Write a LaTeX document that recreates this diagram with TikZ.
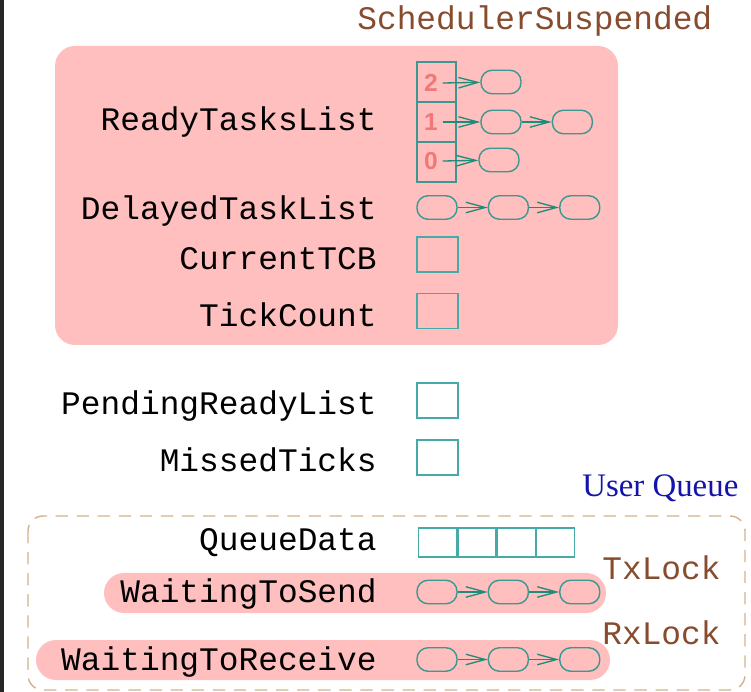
\documentclass[tikz,border=0pt]{standalone}
\usepackage{fontspec}
\setmainfont{Liberation Serif}
\setmonofont{Liberation Mono}
\newfontfamily\digitfont{Liberation Sans}
\usetikzlibrary{arrows.meta, positioning}
\definecolor{mypink}{RGB}{255,191,191}
\definecolor{myteal}{RGB}{60,150,145}
\definecolor{mysquare}{RGB}{70,170,170}
\definecolor{mylink}{RGB}{30,140,120}
\definecolor{mybrown}{RGB}{135,75,45}
\definecolor{myblue}{RGB}{20,20,170}
\definecolor{mytan}{RGB}{210,178,140}
\definecolor{mydigit}{RGB}{240,120,120}
\tikzset{
  lbl/.style={anchor=east, inner sep=0pt, font=\fontsize{18.7}{20}\selectfont\ttfamily},
  lock/.style={anchor=west, inner sep=0pt, text=mybrown,
    font=\fontsize{18.7}{20}\selectfont\ttfamily},
  tcb/.style={rectangle, draw=myteal, rounded corners=0.22cm,
    minimum width=0.8cm, minimum height=0.47cm, inner sep=0pt, line width=0.8pt},
  sq/.style={rectangle, draw=mysquare, minimum width=0.82cm,
    minimum height=0.7cm, inner sep=0pt, line width=0.8pt},
  slot/.style={rectangle, draw=myteal, minimum width=0.78cm,
    minimum height=0.8cm, inner sep=0pt, line width=0.8pt},
  cell/.style={rectangle, draw=mysquare, minimum width=0.76cm,
    minimum height=0.58cm, inner sep=0pt, line width=0.8pt},
  digit/.style={text=mydigit, inner sep=2.5pt,
    font=\fontsize{14}{14}\selectfont\digitfont\bfseries},
  lnk/.style={-{Straight Barb[length=11pt,width=6pt]}, line width=0.75pt, color=mylink}
}
\begin{document}
\begin{tikzpicture}[x=0.02cm, y=-0.02cm, node distance=0.6cm]
  \useasboundingbox (0,0) rectangle (751,692);
  \fill[black!85] (0,0) rectangle (4,692);

  % scheduler area
  \fill[mypink, rounded corners=0.4cm] (55,46) rectangle (618,345);
  \node[lock] (sched) at (357,21) {SchedulerSuspended};

  \node[lbl] (ready) at (377,122) {ReadyTasksList};
  \node[slot] (s2) at (436.5,82) {};
  \node[slot] (s1) at (436.5,122) {};
  \node[slot] (s0) at (436.5,162) {};
  \node[digit] (n2) at (431,83) {2};
  \node[digit] (n1) at (431,122) {1};
  \node[digit] (n0) at (431,161) {0};
  \node[tcb] (r2a) at (501,82) {};
  \node[tcb] (r1a) at (501,122) {};
  \node[tcb, right=of r1a] (r1b) {};
  \node[tcb] (r0a) at (499,160) {};
  \draw[lnk] (n2.east) -- (r2a);
  \draw[lnk] (n1.east) -- (r1a);
  \draw[lnk] (r1a) -- (r1b);
  \draw[lnk] (n0.east) -- (r0a);

  \node[lbl] (delayed) at (377,211) {DelayedTaskList};
  \node[tcb] (d1) at (437,207.5) {};
  \node[tcb, right=of d1] (d2) {};
  \node[tcb, right=of d2] (d3) {};
  \draw[lnk] (d1) -- (d2);
  \draw[lnk] (d2) -- (d3);

  \node[lbl] (current) at (377,259) {CurrentTCB};
  \node[sq] (currentbox) at (437.5,254.5) {};
  \node[lbl] (tick) at (377,315) {TickCount};
  \node[sq] (tickbox) at (437.5,311) {};

  % outside the scheduler
  \node[lbl] (pending) at (377,406) {PendingReadyList};
  \node[sq] (pendingbox) at (437.5,400.5) {};
  \node[lbl] (missed) at (377,460) {MissedTicks};
  \node[sq] (missedbox) at (437.5,457.5) {};

  % user queue
  \node[anchor=west, inner sep=0pt, text=myblue,
    font=\fontsize{18.7}{20}\selectfont\rmfamily] (uq) at (582,488) {User Queue};
  \draw[mytan, dash pattern=on 7pt off 5pt, line width=0.8pt,
    rounded corners=0.3cm] (28,516) rectangle (745,690);
  \fill[mypink, rounded corners=0.4cm] (104,573) rectangle (606,613);
  \fill[mypink, rounded corners=0.4cm] (36,640) rectangle (610,680);

  \node[lbl] (qdata) at (377,543) {QueueData};
  \node[cell] (q1) at (437.5,542.5) {};
  \node[cell, right=0pt of q1] (q2) {};
  \node[cell, right=0pt of q2] (q3) {};
  \node[cell, right=0pt of q3] (q4) {};

  \node[lock] (tx) at (602,568) {TxLock};
  \node[lbl] (send) at (377,594) {WaitingToSend};
  \node[tcb] (w1) at (437,592) {};
  \node[tcb, right=of w1] (w2) {};
  \node[tcb, right=of w2] (w3) {};
  \draw[lnk] (w1) -- (w2);
  \draw[lnk] (w2) -- (w3);

  \node[lock] (rx) at (602,633) {RxLock};
  \node[lbl] (recv) at (377,662) {WaitingToReceive};
  \node[tcb] (v1) at (437,659.5) {};
  \node[tcb, right=of v1] (v2) {};
  \node[tcb, right=of v2] (v3) {};
  \draw[lnk] (v1) -- (v2);
  \draw[lnk] (v2) -- (v3);
\end{tikzpicture}
\end{document}
